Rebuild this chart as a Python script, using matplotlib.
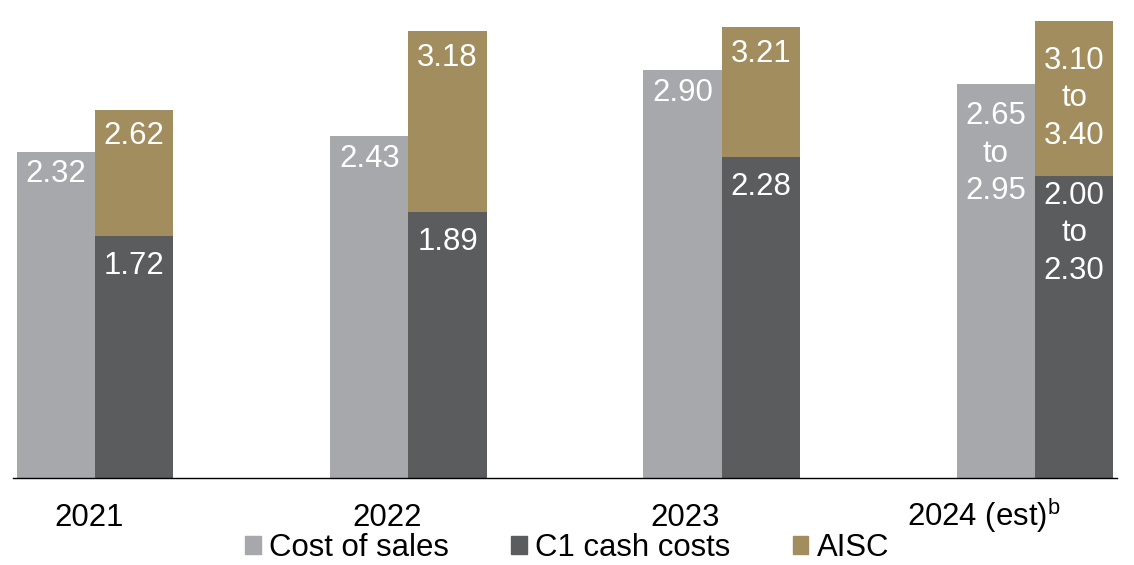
import numpy as np
import matplotlib
matplotlib.use("Agg")
import matplotlib.pyplot as plt
from matplotlib.patches import Patch

plt.rcParams['font.family'] = ['Liberation Sans', 'DejaVu Sans']

# Data (US$/lb) - 2024 is a guidance range
years = ['2021', '2022', '2023', r'2024 (est)$^\mathregular{b}$']
cost_low = [2.32, 2.43, 2.90, 2.65]
cost_high = [2.32, 2.43, 2.90, 2.95]
c1_low = [1.72, 1.89, 2.28, 2.00]
c1_high = [1.72, 1.89, 2.28, 2.30]
aisc_low = [2.62, 3.18, 3.21, 3.10]
aisc_high = [2.62, 3.18, 3.21, 3.40]

col_cost = '#A7A8AC'
col_c1 = '#5B5C5E'
col_aisc = '#A28D5E'
fs = 22.4
ls = 1.33


def mid(lo, hi):
    return (np.array(lo) + np.array(hi)) / 2


def label(lo, hi):
    if lo == hi:
        return f"{lo:.2f}"
    return f"{lo:.2f}\nto\n{hi:.2f}"


cost = mid(cost_low, cost_high)
c1 = mid(c1_low, c1_high)
aisc = mid(aisc_low, aisc_high)

fig = plt.figure(figsize=(11.34, 5.65), dpi=100)
ax = fig.add_axes([13 / 1134, 1 - 478 / 565, (1117 - 13) / 1134, 478 / 565])

x = np.arange(len(years))
w = 0.25
ax.bar(x - w / 2, cost, w, color=col_cost, linewidth=0)
ax.bar(x + w / 2, c1, w, color=col_c1, linewidth=0)
ax.bar(x + w / 2, aisc - c1, w, bottom=c1, color=col_aisc, linewidth=0)

# value labels inside bars
for i in range(len(years)):
    rng = cost_low[i] != cost_high[i]
    ax.annotate(label(cost_low[i], cost_high[i]), (x[i] - w / 2, cost[i]),
                xytext=(0, -12 if rng else -5.5), textcoords='offset points',
                ha='center', va='top', color='white', fontsize=fs, linespacing=ls)
    ax.annotate(label(c1_low[i], c1_high[i]), (x[i] + w / 2, c1[i]),
                xytext=(0, -3.5 if rng else -10.5), textcoords='offset points',
                ha='center', va='top', color='white', fontsize=fs, linespacing=ls)
    if rng:
        ax.text(x[i] + w / 2, (c1[i] + aisc[i]) / 2, label(aisc_low[i], aisc_high[i]),
                ha='center', va='center', color='white', fontsize=fs, linespacing=ls)
    else:
        ax.annotate(label(aisc_low[i], aisc_high[i]), (x[i] + w / 2, aisc[i]),
                    xytext=(0, -8.5), textcoords='offset points',
                    ha='center', va='top', color='white', fontsize=fs)

ax.set_xlim(-0.262, 3.262)
ax.set_ylim(0, 3.40)
ax.set_yticks([])
ax.set_xticks(x * 0.952 - 0.02)
ax.set_xticklabels(years, fontsize=fs, va='baseline')
ax.tick_params(axis='x', length=0, pad=34.5)
for s in ['top', 'left', 'right']:
    ax.spines[s].set_visible(False)
ax.spines['bottom'].set_linewidth(1.0)
ax.spines['bottom'].set_color('black')
ax.patch.set_alpha(0)

handles = [Patch(color=col_cost, label='Cost of sales'),
           Patch(color=col_c1, label='C1 cash costs'),
           Patch(color=col_aisc, label='AISC')]
fig.legend(handles=handles, loc='center', bbox_to_anchor=(0.5, 1 - 548 / 565),
           ncol=3, frameon=False, fontsize=fs, handlelength=0.5, handleheight=0.5,
           handletextpad=0.27, columnspacing=2.0, borderpad=0, borderaxespad=0)

fig.savefig('out.png', dpi=100)
